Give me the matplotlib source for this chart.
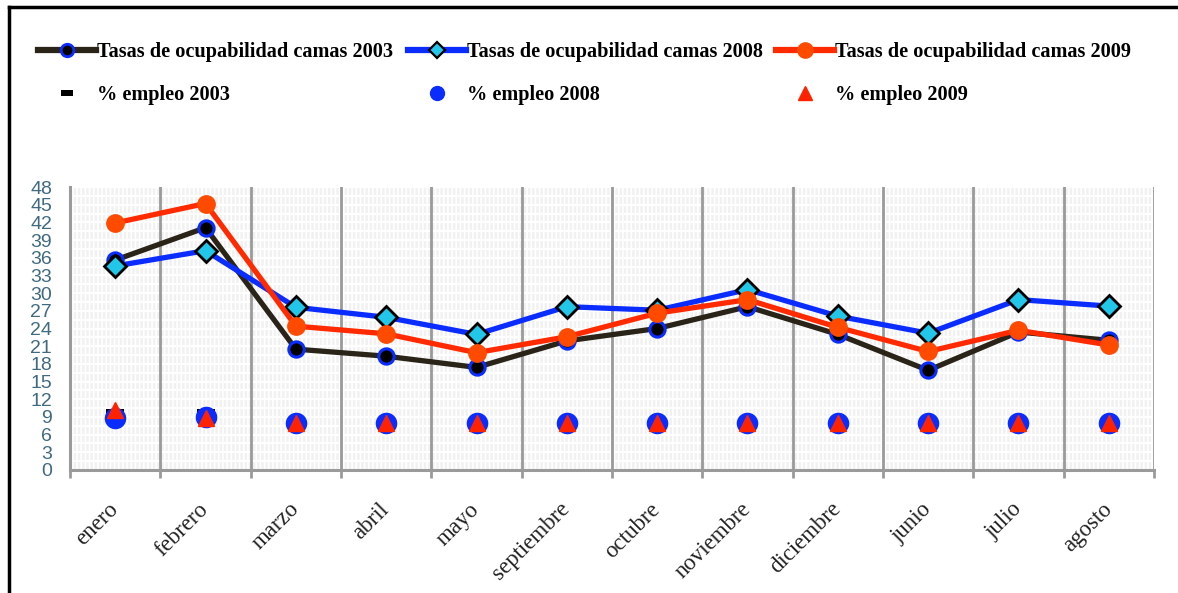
import matplotlib
matplotlib.use("Agg")
import matplotlib.pyplot as plt
from matplotlib.lines import Line2D
from matplotlib.patches import Rectangle
from matplotlib.path import Path
import numpy as np

months = ["enero", "febrero", "marzo", "abril", "mayo", "septiembre",
          "octubre", "noviembre", "diciembre", "junio", "julio", "agosto"]

camas_2003 = [35.6, 41.1, 20.5, 19.3, 17.4, 21.9, 24.0, 27.7, 23.0, 16.9, 23.4, 22.0]
camas_2008 = [34.6, 37.2, 27.6, 25.9, 23.0, 27.7, 27.1, 30.6, 26.1, 23.2, 28.9, 27.8]
camas_2009 = [41.9, 45.2, 24.4, 23.1, 19.9, 22.6, 26.6, 28.9, 24.2, 20.1, 23.7, 21.2]

empleo_2003 = [9.7, 9.7, 7.9, 7.9, 7.9, 7.9, 7.9, 7.9, 7.9, 7.9, 7.9, 7.9]
empleo_2008 = [8.8, 9.0, 7.9, 7.9, 7.9, 7.9, 7.9, 7.9, 7.9, 7.9, 7.9, 7.9]
empleo_2009 = [10.1, 8.9, 7.9, 7.9, 7.9, 7.9, 7.9, 7.9, 7.9, 7.9, 7.9, 7.9]

y_ticks = list(range(0, 49, 3))

W, H = 1178, 593
fig = plt.figure(figsize=(W / 100, H / 100), dpi=100)
fig.patch.set_facecolor("white")
ax = fig.add_axes([70 / W, 1 - 470 / H, (1154 - 70) / W, (470 - 187) / H])

# background pattern
ax.set_facecolor("#f1f1f1")
plt.rcParams["hatch.linewidth"] = 1.2
ax.add_patch(Rectangle((0, 0), 1, 1, transform=ax.transAxes, facecolor="none",
                       edgecolor="white", hatch="||||", lw=0, zorder=0))
for yv in np.arange(0, 48.1, 1.5):
    ax.axhline(yv, color="white", lw=1.6, zorder=0.5)

x = np.arange(len(months))

black = "#2a2418"
blue = "#0a2cff"
red = "#ff2a00"
cyan = "#21c6e8"
orange = "#ff4a00"

ax.plot(x, camas_2003, color=black, lw=3.8, marker="o", ms=11,
        mfc="black", mec=blue, mew=2.2, zorder=3, solid_capstyle="round")
ax.plot(x, camas_2008, color=blue, lw=3.8, marker="D", ms=11,
        mfc=cyan, mec="black", mew=2.0, zorder=4, solid_capstyle="round")
ax.plot(x, camas_2009, color=red, lw=3.8, marker="o", ms=12.5,
        mfc=orange, mec=orange, mew=1, zorder=5, solid_capstyle="round")

dash = Path([(-1, -0.5), (1, -0.5), (1, 0.5), (-1, 0.5), (-1, -0.5)],
            [Path.MOVETO, Path.LINETO, Path.LINETO, Path.LINETO, Path.CLOSEPOLY])
ax.plot(x, empleo_2003, ls="none", marker=dash, ms=12.5, mfc="black",
        mec="black", mew=0, zorder=6)
ax.plot(x, empleo_2008, ls="none", marker="o", ms=14.5, mfc=blue,
        mec=blue, zorder=7)
ax.plot(x, empleo_2009, ls="none", marker="^", ms=11, mfc="#ff2200",
        mec="#ff2200", zorder=8)

ax.set_xlim(-0.5, len(months) - 0.5)
ax.set_ylim(0, 48)
ax.set_yticks(y_ticks)
ax.set_yticklabels([str(v) for v in y_ticks], fontsize=14,
                   family="Liberation Sans", color="#3f6a80")
ax.tick_params(axis="y", length=0, pad=13)

bounds = np.arange(len(months) + 1) - 0.5
for b in bounds[1:]:
    ax.axvline(b, color="#9a9a9a", lw=2, zorder=1)
ax.set_xticks(bounds, minor=True)
ax.tick_params(axis="x", which="minor", length=6, width=2, color="#9a9a9a")
ax.set_xticks(x)
ax.set_xticklabels(months, rotation=45, ha="right", va="center",
                   rotation_mode="anchor", fontsize=16.5, family="Liberation Serif",
                   color="#222222")
ax.tick_params(axis="x", which="major", length=0, pad=26)

for s in ["top", "right"]:
    ax.spines[s].set_visible(False)
for s in ["left", "bottom"]:
    ax.spines[s].set_color("#9a9a9a")
    ax.spines[s].set_linewidth(2.2)

# legend proxies (legend marker sizes differ from plot marks)
h03 = Line2D([], [], color=black, lw=4.5, marker="o", ms=9, mfc="black", mec=blue, mew=2)
h08 = Line2D([], [], color=blue, lw=4.5, marker="D", ms=8, mfc=cyan, mec="black", mew=1.6)
h09 = Line2D([], [], color=red, lw=4.5, marker="o", ms=11, mfc=orange, mec=orange)
g03 = Line2D([], [], ls="none", marker=dash, ms=8, mfc="black", mec="black", mew=0)
g08 = Line2D([], [], ls="none", marker="o", ms=10, mfc=blue, mec=blue)
g09 = Line2D([], [], ls="none", marker="^", ms=10, mfc="#ff2200", mec="#ff2200")

lprops = dict(family="Liberation Serif", weight="bold", size=14.6)
cols = [((h03, g03), ("Tasas de ocupabilidad camas 2003", "% empleo 2003"), 38),
        ((h08, g08), ("Tasas de ocupabilidad camas 2008", "% empleo 2008"), 408),
        ((h09, g09), ("Tasas de ocupabilidad camas 2009", "% empleo 2009"), 776)]
for (h, labs, xpos) in cols:
    fig.legend(handles=list(h), labels=list(labs),
               loc="upper left", bbox_to_anchor=(xpos / W, 1 - 42 / H),
               frameon=False, prop=lprops, handlelength=2.85,
               handletextpad=0.08, labelspacing=1.15, borderaxespad=0,
               borderpad=0)

# figure frame lines (left and top)
fig.add_artist(Line2D([9 / W, 9 / W], [0, 1 - 7 / H], color="black", lw=2.5,
                      transform=fig.transFigure))
fig.add_artist(Line2D([9 / W, 1], [1 - 7 / H, 1 - 7 / H], color="black", lw=2.5,
                      transform=fig.transFigure))

fig.savefig("out.png", dpi=100)
